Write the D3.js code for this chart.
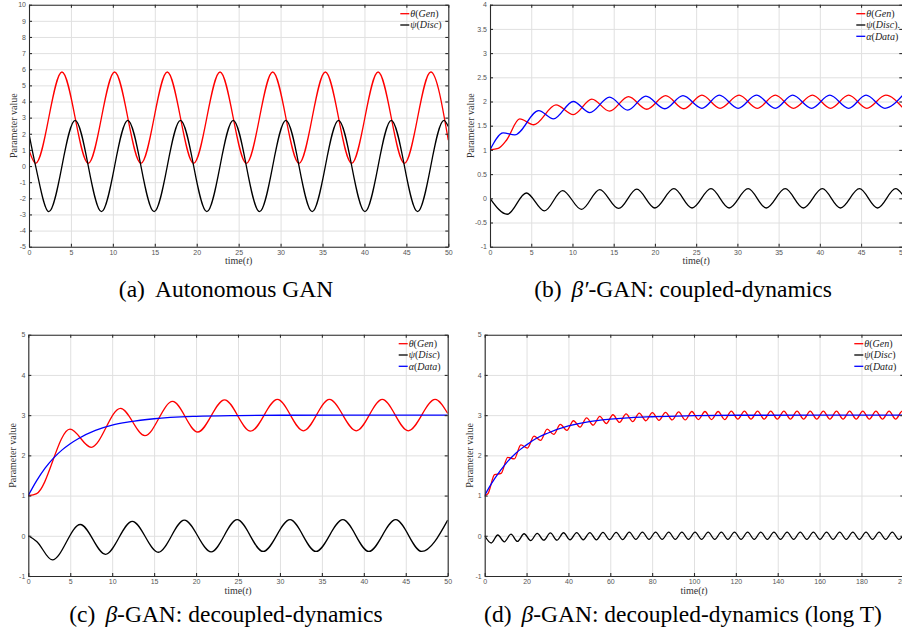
<!DOCTYPE html>
<html>
<head>
<meta charset="utf-8">
<script src="https://cdn.jsdelivr.net/npm/d3@7"></script>
<style>
  body { margin: 0; background: #fff; }
  svg { display: block; }
  .grid line { stroke: #e0e0e0; stroke-width: 1; }
  .grid path { display: none; }
  .frame path, .frame line { stroke: #2b2b2b; stroke-width: 1.1; }
  .series { fill: none; stroke-width: 1.3; }
</style>
</head>
<body>
<div id="chart"></div>
<script>
// [time, value] pairs: turning points plus a few shape points
// (a) autonomous GAN
const aTheta = [[0,1],[0.79,0.17],[3.93,5.83],[7.07,0.17],[10.21,5.83],[13.35,0.17],[16.49,5.83],[19.63,0.17],[22.78,5.83],[25.92,0.17],[29.06,5.83],[32.2,0.17],[35.34,5.83],[38.48,0.17],[41.63,5.83],[44.77,0.17],[47.91,5.83],[50,1.6]];
const aPsi = [[0,2],[0.79,0],[2.36,-2.83],[5.5,2.83],[8.64,-2.83],[11.78,2.83],[14.92,-2.83],[18.06,2.83],[21.21,-2.83],[24.35,2.83],[27.49,-2.83],[30.63,2.83],[33.77,-2.83],[36.91,2.83],[40.06,-2.83],[43.2,2.83],[46.34,-2.83],[49.48,2.83],[50,2.45]];

// (b) beta'-GAN coupled
const bTheta = [[0,1],[1,1.03],[2,1.2],[3.6,1.64],[5.3,1.52],[8.0,1.93],[10.1,1.73],[12.35,2.05],[14.5,1.8],[16.8,2.1],[19.0,1.84],[21.3,2.12],[23.5,1.85],[25.7,2.13],[27.9,1.86],[30.2,2.13],[32.4,1.86],[34.6,2.13],[36.8,1.86],[39.1,2.13],[41.3,1.86],[43.5,2.13],[45.7,1.86],[48.0,2.13],[50,1.88]];
const bPsi = [[0,0],[2.1,-0.33],[4.4,0.11],[6.6,-0.26],[8.8,0.16],[11.1,-0.23],[13.3,0.18],[15.6,-0.21],[17.8,0.19],[20.0,-0.2],[22.3,0.2],[24.5,-0.2],[26.8,0.2],[29.0,-0.2],[31.3,0.2],[33.5,-0.2],[35.8,0.2],[38.0,-0.2],[40.3,0.2],[42.5,-0.2],[44.8,0.2],[47.0,-0.2],[49.2,0.2],[50,0.08]];
const bAlpha = [[0,1],[1.6,1.35],[3.0,1.31],[5.9,1.81],[7.7,1.64],[10.1,2.0],[12.1,1.77],[14.5,2.09],[16.7,1.82],[18.9,2.11],[21.2,1.85],[23.4,2.12],[25.7,1.86],[27.8,2.13],[30.1,1.86],[32.3,2.13],[34.6,1.86],[36.7,2.13],[39.0,1.86],[41.2,2.13],[43.5,1.86],[45.6,2.13],[47.9,1.86],[50,2.12]];

// (c) beta-GAN decoupled
const cTheta = [[0,1],[1,1.05],[4.97,2.65],[7.5,2.2],[11.0,3.17],[13.9,2.49],[17.2,3.34],[20.2,2.58],[23.4,3.38],[26.5,2.6],[29.7,3.39],[32.8,2.61],[35.9,3.39],[39.1,2.61],[42.2,3.39],[45.3,2.61],[48.5,3.39],[50,3.04]];
const cPsi = [[0,0],[1,-0.14],[2.86,-0.6],[6.2,0.28],[9.2,-0.46],[12.4,0.36],[15.5,-0.41],[18.6,0.39],[21.8,-0.4],[24.9,0.4],[28.0,-0.39],[31.2,0.4],[34.3,-0.39],[37.5,0.4],[40.6,-0.39],[43.8,0.4],[46.9,-0.39],[50,0.39]];
const cAlpha = [[0,1],[1,1.37],[2,1.68],[3,1.93],[4,2.13],[5,2.29],[6,2.42],[8,2.62],[10,2.75],[12,2.83],[15,2.91],[20,2.97],[25,2.99],[30,2.997],[40,3],[50,3]];

// (d) beta-GAN decoupled, long T
const dTheta = [[0,1],[1.57,1.05],[4.71,1.52],[7.85,1.55],[10.99,1.95],[14.14,1.91],[17.28,2.26],[20.42,2.18],[23.56,2.48],[26.7,2.37],[29.85,2.65],[32.99,2.52],[36.13,2.77],[39.27,2.62],[42.41,2.86],[45.55,2.7],[48.69,2.93],[51.84,2.75],[54.98,2.97],[58.12,2.79],[61.26,3.01],[64.4,2.82],[67.54,3.03],[70.69,2.84],[73.83,3.05],[76.97,2.86],[80.11,3.06],[83.25,2.87],[86.39,3.07],[89.54,2.88],[92.68,3.08],[95.82,2.88],[98.96,3.09],[102.1,2.89],[105.24,3.09],[108.38,2.89],[111.53,3.09],[114.67,2.89],[117.81,3.1],[120.95,2.9],[124.09,3.1],[127.23,2.9],[130.38,3.1],[133.52,2.9],[136.66,3.1],[139.8,2.9],[142.94,3.1],[146.08,2.9],[149.23,3.1],[152.37,2.9],[155.51,3.1],[158.65,2.9],[161.79,3.1],[164.93,2.9],[168.08,3.1],[171.22,2.9],[174.36,3.1],[177.5,2.9],[180.64,3.1],[183.78,2.9],[186.92,3.1],[190.07,2.9],[193.21,3.1],[196.35,2.9],[199.49,3.1],[200,3.09]];
const dPsi = [[0,0],[3.1,-0.18],[6.25,0.02],[9.38,-0.15],[12.53,0.04],[15.67,-0.14],[18.82,0.05],[21.95,-0.12],[25.1,0.06],[28.23,-0.11],[31.38,0.07],[34.52,-0.11],[37.67,0.075],[40.8,-0.1],[43.95,0.08],[47.08,-0.1],[50.23,0.08],[53.36,-0.1],[56.51,0.085],[59.65,-0.095],[62.8,0.085],[65.93,-0.095],[69.08,0.09],[72.21,-0.09],[75.36,0.09],[78.5,-0.09],[81.65,0.09],[84.78,-0.09],[87.93,0.09],[91.06,-0.09],[94.21,0.09],[97.35,-0.09],[100.5,0.09],[103.63,-0.09],[106.78,0.09],[109.91,-0.09],[113.06,0.09],[116.2,-0.09],[119.35,0.09],[122.48,-0.09],[125.63,0.09],[128.76,-0.09],[131.91,0.09],[135.04,-0.09],[138.19,0.09],[141.33,-0.09],[144.48,0.09],[147.61,-0.09],[150.76,0.09],[153.89,-0.09],[157.04,0.09],[160.18,-0.09],[163.33,0.09],[166.46,-0.09],[169.61,0.09],[172.74,-0.09],[175.89,0.09],[179.03,-0.09],[182.18,0.09],[185.31,-0.09],[188.46,0.09],[191.59,-0.09],[194.74,0.09],[197.88,-0.09],[200,0.03]];
const dAlpha = [[0,1],[2,1.19],[5,1.44],[10,1.79],[15,2.06],[20,2.26],[25,2.43],[30,2.55],[40,2.73],[50,2.84],[60,2.9],[70,2.94],[80,2.96],[100,2.99],[120,2.997],[200,3]];

// tick values
const xTicks50 = [0,5,10,15,20,25,30,35,40,45,50];
const xTicks200 = [0,20,40,60,80,100,120,140,160,180,200];
const yTicksA = [-5,-4,-3,-2,-1,0,1,2,3,4,5,6,7,8,9,10];
const yTicksB = [-1,-0.5,0,0.5,1,1.5,2,2.5,3,3.5,4];
const yTicksCD = [-1,0,1,2,3,4,5];

// legend text
const legendSym = ['θ', 'ψ', 'α'];
const legendName = ['Gen', 'Disc', 'Data'];
const legendTailB = ['', '.', ''];   // stray dot after ψ(Disc) in panel b
const seriesColor = ['#ff0000', '#000000', '#0000ff'];

const serif = '"Liberation Serif", "Times New Roman", serif';
const sans = '"Liberation Sans", Arial, sans-serif';

const panels = [
  { id: 'a', box: {left: 29, right: 448.3, top: 4.7, bottom: 246.7}, xTicks: xTicks50, yTicks: yTicksA,
    series: [aTheta, aPsi], yLabelGap: 16, legendGap: 48, tails: null,
    cap: {x: 226, y: 297, tag: '(a)', sym: '', rest: 'Autonomous GAN'} },
  { id: 'b', box: {left: 490, right: 902.3, top: 4.7, bottom: 246.7}, xTicks: xTicks50, yTicks: yTicksB,
    series: [bTheta, bPsi, bAlpha], yLabelGap: 20, legendGap: 46, tails: legendTailB,
    cap: {x: 683, y: 297, tag: '(b)', sym: 'β′', rest: '-GAN: coupled-dynamics'} },
  { id: 'c', box: {left: 28.3, right: 447.7, top: 334.7, bottom: 576}, xTicks: xTicks50, yTicks: yTicksCD,
    series: [cTheta, cPsi, cAlpha], yLabelGap: 16, legendGap: 49, tails: null,
    cap: {x: 226, y: 622, tag: '(c)', sym: 'β', rest: '-GAN: decoupled-dynamics'} },
  { id: 'd', box: {left: 484.7, right: 903.3, top: 334.7, bottom: 576}, xTicks: xTicks200, yTicks: yTicksCD,
    series: [dTheta, dPsi, dAlpha], yLabelGap: 15, legendGap: 49, tails: null,
    cap: {x: 683, y: 622, tag: '(d)', sym: 'β', rest: '-GAN: decoupled-dynamics (long T)'} }
];

let svg = d3.select('#chart').append('svg')
  .attr('width', 902)
  .attr('height', 634)
  .style('background', '#fff');

function drawPanel(p) {
  const b = p.box;
  const w = b.right - b.left, h = b.bottom - b.top;
  const x = d3.scaleLinear().domain([p.xTicks[0], p.xTicks[p.xTicks.length - 1]]).range([b.left, b.right]);
  const y = d3.scaleLinear().domain([p.yTicks[0], p.yTicks[p.yTicks.length - 1]]).range([b.bottom, b.top]);
  const g = svg.append('g').attr('class', 'panel-' + p.id);

  // grid
  g.append('g').attr('class', 'grid').attr('transform', `translate(0,${b.bottom})`)
    .call(d3.axisBottom(x).tickValues(p.xTicks).tickSize(-h).tickFormat(''));
  g.append('g').attr('class', 'grid').attr('transform', `translate(${b.left},0)`)
    .call(d3.axisLeft(y).tickValues(p.yTicks).tickSize(-w).tickFormat(''));

  // curves
  svg.append('clipPath').attr('id', 'clip-' + p.id).append('rect')
    .attr('x', b.left).attr('y', b.top).attr('width', w).attr('height', h);
  const line = d3.line().x(d => x(d[0])).y(d => y(d[1])).curve(d3.curveMonotoneX);
  g.append('g').attr('clip-path', `url(#clip-${p.id})`)
    .selectAll('path.series').data(p.series).join('path')
    .attr('class', 'series')
    .attr('stroke', (d, i) => seriesColor[i])
    .attr('d', line);

  // box with inward ticks on all sides
  const fmt = d => String(d);
  const frames = [
    g.append('g').attr('transform', `translate(0,${b.bottom})`)
      .call(d3.axisBottom(x).tickValues(p.xTicks).tickSizeInner(-3).tickSizeOuter(0).tickPadding(3).tickFormat(fmt)),
    g.append('g').attr('transform', `translate(0,${b.top})`)
      .call(d3.axisTop(x).tickValues(p.xTicks).tickSizeInner(-3).tickSizeOuter(0).tickFormat('')),
    g.append('g').attr('transform', `translate(${b.left},0)`)
      .call(d3.axisLeft(y).tickValues(p.yTicks).tickSizeInner(-3).tickSizeOuter(0).tickPadding(3).tickFormat(fmt)),
    g.append('g').attr('transform', `translate(${b.right},0)`)
      .call(d3.axisRight(y).tickValues(p.yTicks).tickSizeInner(-3).tickSizeOuter(0).tickFormat(''))
  ];
  frames.forEach(f => {
    f.attr('class', 'frame');
    f.selectAll('text').style('font-family', sans).style('font-size', '7px').attr('fill', '#555');
  });

  // axis titles
  const xt = g.append('text')
    .attr('x', (b.left + b.right) / 2).attr('y', b.bottom + 17.5)
    .attr('text-anchor', 'middle')
    .style('font-family', serif).style('font-size', '10px').attr('fill', '#333');
  xt.append('tspan').text('time(');
  xt.append('tspan').attr('font-style', 'italic').text('t');
  xt.append('tspan').text(')');

  g.append('text')
    .attr('transform', `translate(${b.left - p.yLabelGap},${(b.top + b.bottom) / 2}) rotate(-90)`)
    .attr('text-anchor', 'middle').attr('dy', '0.35em')
    .style('font-family', serif).style('font-size', '10px').attr('fill', '#333')
    .text('Parameter value');

  // legend, no box
  const lg = g.append('g').attr('class', 'legend');
  const lx = b.right - p.legendGap;
  p.series.forEach((s, i) => {
    const ly = b.top + 9 + i * 11.3;
    lg.append('line').attr('x1', lx).attr('x2', lx + 9).attr('y1', ly).attr('y2', ly)
      .attr('stroke', seriesColor[i]).attr('stroke-width', 1.3);
    const t = lg.append('text').attr('x', lx + 10).attr('y', ly).attr('dy', '0.33em')
      .style('font-family', serif).style('font-size', '10px').attr('fill', '#222');
    t.append('tspan').attr('font-style', 'italic').text(legendSym[i]);
    t.append('tspan').text('(');
    t.append('tspan').attr('font-style', 'italic').text(legendName[i]);
    t.append('tspan').text(')' + (p.tails ? p.tails[i] : ''));
  });

  // caption
  const cap = svg.append('text')
    .attr('x', p.cap.x).attr('y', p.cap.y).attr('text-anchor', 'middle')
    .style('font-family', serif).style('font-size', '23.5px').attr('fill', '#000');
  cap.append('tspan').text(p.cap.tag);
  if (p.cap.sym) {
    cap.append('tspan').attr('dx', 10).attr('font-style', 'italic').text(p.cap.sym);
    cap.append('tspan').text(p.cap.rest);
  } else {
    cap.append('tspan').attr('dx', 10).text(p.cap.rest);
  }
}

panels.forEach(drawPanel);
</script>
</body>
</html>
